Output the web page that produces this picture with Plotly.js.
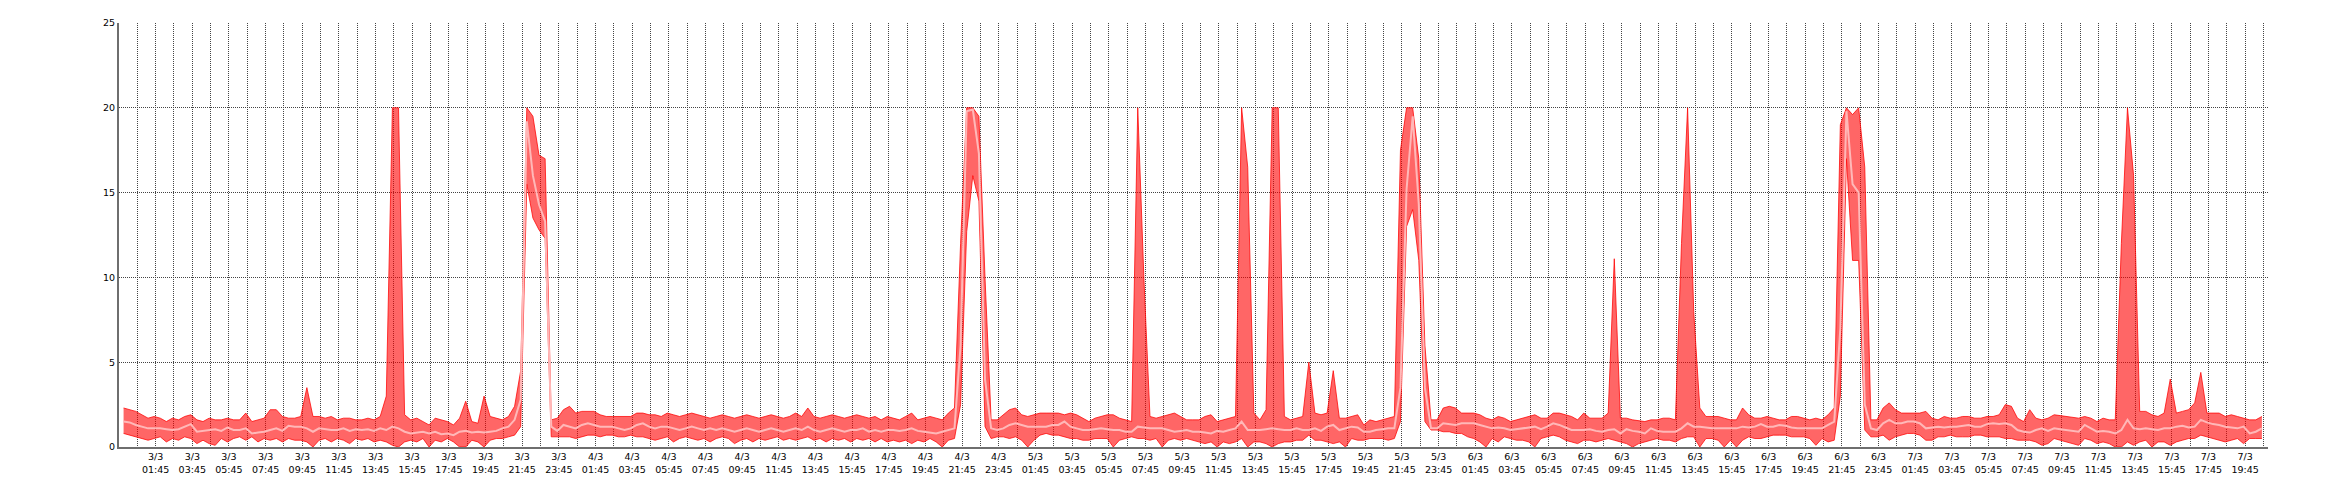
<!DOCTYPE html>
<html><head><meta charset="utf-8">
<script src="https://cdn.plot.ly/plotly-3.0.1.min.js"></script>
<style>html,body{margin:0;padding:0;background:#fff;}#chart{width:2340px;height:500px;}</style>
</head><body><div id="chart"></div><script>
// 20-minute samples starting 3/3 00:00
const startTime = Date.UTC(2014, 2, 3, 0, 0);
const stepMinutes = 20;

const maxD3 = [2.3,2.2,2.1,1.9,1.7,1.8, 1.7,1.5,1.7,1.6,1.8,1.9, 1.6,1.5,1.7,1.6,1.6,1.7, 1.6,1.6,2.0,1.5,1.6,1.7, 2.2,2.2,1.8,1.7,1.7,1.8, 3.5,1.8,1.8,1.7,1.8,1.6, 1.7,1.7,1.6,1.6,1.7,1.6, 1.8,3.0,20,20,1.9,1.6, 1.7,1.5,1.3,1.7,1.6,1.5, 1.3,1.7,2.7,1.5,1.4,3.0, 1.8,1.7,1.6,1.8,2.4,4.5, 20,19.5,17.2,17.0,1.6,1.7];
const avgD3 = [1.5,1.45,1.3,1.2,1.1,1.1, 1.1,1.05,1.0,1.05,1.2,1.35, 0.9,0.95,1.0,1.05,0.95,1.15, 1.0,1.0,1.1,0.8,0.85,0.9, 1.0,1.1,0.95,1.25,1.2,1.2, 1.1,0.9,1.1,1.05,1.0,1.0, 1.1,0.95,1.05,1.0,1.05,0.95, 1.1,1.0,1.2,1.1,0.9,0.8, 0.85,0.9,0.8,0.9,0.75,0.8, 0.7,0.9,0.95,0.85,0.9,0.85, 0.9,0.95,1.1,1.2,1.6,2.8, 19.2,16.0,14.3,13.3,1.2,0.95];
const minD3 = [0.8,0.7,0.6,0.5,0.4,0.5, 0.6,0.3,0.5,0.4,0.6,0.5, 0.2,0.4,0.2,0.1,0.5,0.3, 0.5,0.6,0.4,0.6,0.3,0.5, 0.4,0.5,0.3,0.5,0.4,0.4, 0.3,0.0,0.4,0.5,0.3,0.5, 0.4,0.2,0.5,0.4,0.5,0.3, 0.4,0.3,0.1,0.0,0.3,0.4, 0.3,0.5,0.0,0.4,0.3,0.5, 0.3,0.0,0.0,0.4,0.3,0.0, 0.4,0.5,0.5,0.6,0.7,1.2, 15.5,13.5,12.8,12.3,0.6,0.6];

const maxD4 = [2.2,2.4,2.0,2.1,2.1,2.1, 1.9,1.8,1.8,1.8,1.8,1.8, 2.0,2.0,1.9,1.9,1.8,2.0, 1.9,1.8,1.9,2.0,1.9,1.8, 1.7,1.8,1.9,1.8,1.7,1.8, 1.9,1.8,1.7,1.8,1.9,1.8, 1.7,1.8,2.0,1.8,2.3,1.8, 1.7,1.8,1.9,1.8,1.7,1.8, 1.9,1.8,1.7,1.8,1.6,1.8, 1.7,1.6,1.8,2.0,1.6,1.7, 1.8,1.7,1.6,2.0,2.3,12, 20,20,19.5,10,1.6,1.6];
const avgD4 = [1.3,1.2,1.1,1.3,1.4,1.3, 1.2,1.2,1.2,1.1,1.0,1.1, 1.3,1.4,1.2,1.1,1.2,1.2, 1.1,1.0,1.1,1.2,1.1,1.0, 1.1,1.0,1.1,1.0,0.9,1.0, 1.1,1.0,0.9,1.0,1.1,1.0, 0.9,1.0,1.1,1.0,1.2,1.0, 0.9,1.0,1.1,1.0,0.9,1.0, 1.0,1.1,0.9,1.0,0.9,1.0, 1.0,0.95,1.0,1.1,0.95,0.9, 0.85,0.8,0.9,1.0,1.1,6.0, 19.8,19.9,17.3,4.0,1.1,1.0];
const minD4 = [0.6,0.6,0.5,0.6,0.7,0.7, 0.6,0.7,0.7,0.6,0.6,0.7, 0.6,0.6,0.5,0.4,0.5,0.6, 0.3,0.5,0.6,0.5,0.4,0.5, 0.3,0.5,0.6,0.5,0.2,0.4, 0.5,0.3,0.5,0.4,0.5,0.6, 0.4,0.5,0.4,0.5,0.6,0.4, 0.5,0.3,0.5,0.4,0.5,0.3, 0.5,0.4,0.5,0.3,0.5,0.3, 0.4,0.3,0.4,0.2,0.4,0.3, 0.5,0.3,0.0,0.4,0.5,2.5, 12.7,16.0,14.5,1.2,0.5,0.6];

const maxD5 = [1.9,2.2,2.3,1.9,1.8,1.9, 2.0,2.0,2.0,2.0,1.9,2.0, 1.9,1.7,1.5,1.7,1.8,1.9, 1.9,1.7,1.6,1.5,20,10, 1.8,1.7,1.8,1.9,2.0,1.8, 1.6,1.6,1.6,1.8,1.9,1.5, 1.6,1.7,1.8,20,16.5,2.0, 1.6,2.2,20,20,1.8,1.6, 1.7,1.8,5.0,2.0,1.9,2.0, 4.5,1.7,1.7,1.8,1.9,1.3, 1.6,1.5,1.6,1.7,1.8,17.5, 20,20,17,6,1.6,1.6];
const avgD5 = [1.1,1.3,1.4,1.3,1.2,1.2, 1.2,1.2,1.3,1.3,1.5,1.2, 1.1,1.0,1.0,1.05,1.1,1.05, 1.0,1.0,0.9,0.9,1.2,1.15, 1.1,1.1,1.1,1.0,0.9,0.95, 1.0,0.9,0.9,0.85,0.8,0.95, 0.9,1.0,1.1,1.5,1.0,1.0, 1.0,1.05,1.1,1.05,1.0,1.0, 1.1,1.0,1.0,1.1,0.95,1.2, 1.3,1.0,1.1,1.2,1.15,0.9, 0.9,1.0,1.05,1.1,1.1,3.5, 15.2,19.5,14.3,3.5,1.1,1.1];
const minD5 = [0.6,0.5,0.6,0.4,0.0,0.4, 0.7,0.8,0.7,0.7,0.6,0.5, 0.5,0.4,0.4,0.5,0.5,0.5, 0.0,0.4,0.5,0.6,0.5,0.5, 0.4,0.5,0.0,0.4,0.5,0.4, 0.5,0.4,0.3,0.2,0.3,0.0, 0.3,0.2,0.3,0.5,0.0,0.3, 0.3,0.2,0.0,0.2,0.3,0.3, 0.4,0.4,0.7,0.4,0.4,0.3, 0.2,0.3,0.0,0.5,0.4,0.4, 0.5,0.5,0.5,0.4,0.5,1.5, 13,14,11,1.5,1.0,1.0];

const maxD6 = [2.3,2.4,2.3,2.0,2.0,2.0, 1.9,1.7,1.6,1.8,1.7,1.5, 1.6,1.7,1.8,1.9,1.7,1.7, 2.0,2.0,1.9,1.8,1.6,2.0, 1.7,1.7,1.7,2.0,11.1,1.7, 1.7,1.6,1.55,1.5,1.6,1.6, 1.7,1.7,1.6,12,20,8, 2.3,1.8,1.8,1.8,1.7,1.6, 1.6,2.3,1.9,1.7,1.7,1.8, 1.7,1.6,1.6,1.8,1.8,1.7, 1.6,1.7,1.6,1.9,2.3,19, 20,19.6,20,16.5,1.6,1.6];
const avgD6 = [1.4,1.35,1.3,1.4,1.4,1.4, 1.3,1.2,1.1,1.15,1.1,1.0, 1.05,1.1,1.15,1.2,1.05,1.2, 1.4,1.3,1.15,1.0,1.0,1.0, 1.05,0.95,0.9,1.0,1.05,0.8, 1.05,0.95,0.9,0.8,1.1,0.95, 0.9,0.9,0.9,1.1,1.4,1.2, 1.2,1.15,1.1,1.1,1.1,1.1, 1.1,1.2,1.15,1.2,1.35,1.2, 1.2,1.3,1.25,1.15,1.1,1.1, 1.1,1.1,1.1,1.3,1.5,7.0, 19.8,15.5,15.0,2.5,1.1,1.0];
const minD6 = [0.9,0.9,0.8,0.8,0.6,0.5, 0.3,0.0,0.5,0.3,0.6,0.5, 0.4,0.4,0.3,0.0,0.5,0.6, 0.7,0.6,0.4,0.3,0.2,0.4, 0.4,0.3,0.4,0.5,0.4,0.3, 0.2,0.0,0.2,0.3,0.4,0.5, 0.4,0.4,0.3,0.5,0.6,0.6, 0.0,0.5,0.5,0.4,0.0,0.4, 0.0,0.4,0.6,0.5,0.5,0.6, 0.7,0.7,0.7,0.6,0.6,0.6, 0.5,0.1,0.5,0.3,0.4,3.0, 17,11,11,1.0,0.6,0.6];

const maxD7 = [2.3,2.6,2.2,2.0,2.0,2.0, 2.0,2.1,1.7,1.6,1.8,1.7, 1.7,1.8,1.8,1.7,1.7,1.8, 1.8,1.9,2.5,2.4,1.7,1.5, 2.2,1.7,1.6,1.7,1.9,1.85, 1.8,1.75,1.7,1.8,1.7,1.5, 1.7,1.6,1.6,12,20,16, 2.1,2.1,1.9,1.8,2.0,4.0, 2.0,2.1,2.2,2.6,4.4,2.0, 2.0,2.0,1.8,1.9,1.8,1.7, 1.6,1.6,1.8];
const avgD7 = [1.4,1.6,1.4,1.4,1.5,1.5, 1.4,1.1,1.15,1.2,1.15,1.2, 1.2,1.25,1.3,1.2,1.2,1.35, 1.4,1.35,1.4,1.3,1.0,0.9, 0.85,1.0,1.1,0.95,1.1,1.05, 1.0,0.95,0.9,1.3,1.1,0.9, 0.95,0.9,0.8,1.0,1.6,1.1, 1.05,1.1,1.05,1.0,1.1,1.1, 1.2,1.25,1.15,1.2,1.6,1.45, 1.35,1.3,1.2,1.15,1.1,1.2, 0.8,0.9,1.1];
const minD7 = [0.7,0.4,0.6,0.7,0.8,0.8, 0.7,0.4,0.4,0.6,0.6,0.7, 0.6,0.6,0.6,0.7,0.7,0.6, 0.6,0.6,0.5,0.5,0.4,0.4, 0.4,0.3,0.1,0.2,0.5,0.4, 0.3,0.2,0.1,0.5,0.4,0.2, 0.3,0.2,0.0,0.0,0.3,0.1, 0.3,0.4,0.0,0.3,0.3,0.1, 0.3,0.4,0.5,0.5,0.7,0.6, 0.5,0.4,0.3,0.4,0.5,0.2, 0.5,0.5,0.5];

const maxVals = [].concat(maxD3, maxD4, maxD5, maxD6, maxD7);
const avgVals = [].concat(avgD3, avgD4, avgD5, avgD6, avgD7);
const minVals = [].concat(minD3, minD4, minD5, minD6, minD7);

const p2 = n => String(n).padStart(2, '0');
function fmt(ms) {
  const d = new Date(ms);
  return d.getUTCFullYear() + '-' + p2(d.getUTCMonth() + 1) + '-' + p2(d.getUTCDate()) + ' ' + p2(d.getUTCHours()) + ':' + p2(d.getUTCMinutes()) + ':00';
}
const times = maxVals.map((_, i) => fmt(startTime + i * stepMinutes * 60000));

// labelled ticks: every 2 hours from 3/3 01:45 to 7/3 19:45
const firstTick = Date.UTC(2014, 2, 3, 1, 45);
const tickCount = 58;
const tickVals = [];
const tickText = [];
for (let k = 0; k < tickCount; k++) {
  const ms = firstTick + k * 2 * 3600000;
  const d = new Date(ms);
  tickVals.push(fmt(ms));
  tickText.push(d.getUTCDate() + '/' + (d.getUTCMonth() + 1) + '<br>' + p2(d.getUTCHours()) + ':' + p2(d.getUTCMinutes()));
}

const gridStyle = {showgrid: true, gridcolor: '#444444', griddash: '1px,1px', gridwidth: 1};
const tickFont = {family: 'DejaVu Sans, Verdana, sans-serif', size: 9.5, color: '#000'};

const traces = [
  {x: times, y: minVals, type: 'scatter', mode: 'lines', line: {color: 'rgba(255,0,0,0.75)', width: 1}, hoverinfo: 'skip'},
  {x: times, y: maxVals, type: 'scatter', mode: 'lines', fill: 'tonexty', fillcolor: 'rgba(255,0,0,0.6)', line: {color: 'rgba(255,0,0,0.75)', width: 1}, hoverinfo: 'skip'},
  {x: times, y: avgVals, type: 'scatter', mode: 'lines', line: {color: '#ffb8b8', width: 2}, hoverinfo: 'skip'}
];

const layout = {
  width: 2340, height: 500,
  margin: {l: 119, r: 72, t: 23, b: 53, pad: 0},
  paper_bgcolor: '#ffffff', plot_bgcolor: '#ffffff',
  showlegend: false,
  font: tickFont,
  xaxis: Object.assign({
    type: 'date',
    range: ['2014-03-02 23:45:00', '2014-03-07 21:00:00'],
    tickmode: 'array', tickvals: tickVals, ticktext: tickText,
    minor: Object.assign({tickmode: 'linear', tick0: '2014-03-03 00:45:00', dtick: 3600000, ticks: ''}, gridStyle),
    showline: true, linecolor: '#6e6e6e', linewidth: 2, ticks: '', zeroline: false,
    tickfont: tickFont
  }, gridStyle),
  yaxis: Object.assign({
    range: [0, 25], tickmode: 'linear', tick0: 0, dtick: 5,
    showline: true, linecolor: '#6e6e6e', linewidth: 2, ticks: '', zeroline: false,
    tickfont: tickFont
  }, gridStyle)
};

Plotly.newPlot('chart', traces, layout, {staticPlot: true, displayModeBar: false});
</script></body></html>
